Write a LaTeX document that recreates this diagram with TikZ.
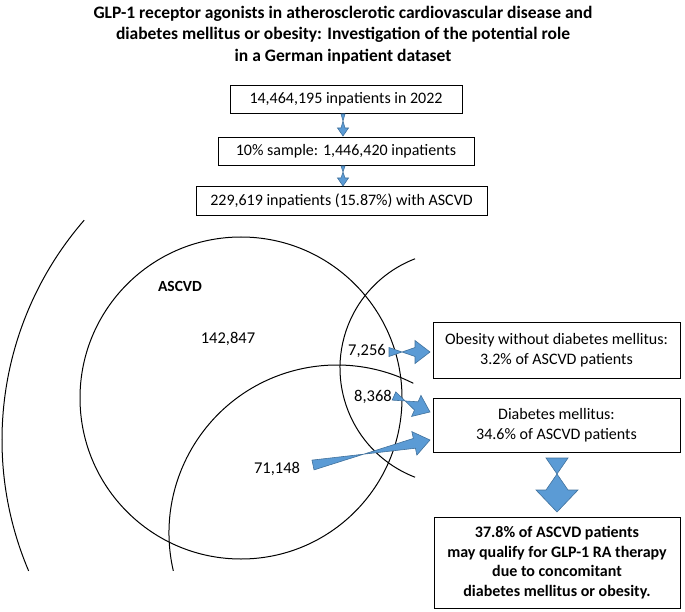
\documentclass[tikz,border=0pt]{standalone}
\usepackage{fontspec}
\setmainfont{Carlito}
\usetikzlibrary{calc}
\definecolor{ab}{HTML}{5B9BD5}
\definecolor{abd}{HTML}{41719C}
\newcommand\BA[7]{%
 \coordinate (s) at (#1,#2); \coordinate (t) at (#3,#4);
 \coordinate (hb) at ($(t)!#7!(s)$);
 \filldraw[fill=ab,draw=abd,line width=0.6pt,line join=miter]
  ($(s)!#5!90:(t)$) -- ($(hb)!#5!-90:(t)$) -- ($(hb)!#6!-90:(t)$) -- (t)
  -- ($(hb)!#6!90:(t)$) -- ($(hb)!#5!90:(t)$) -- ($(s)!#5!-90:(t)$) -- cycle;}
\begin{document}
\begin{tikzpicture}[x=1pt,y=-1pt,
 box/.style={draw,line width=0.8pt,align=center,font=\fontsize{16}{19.5}\selectfont},
 circ/.style={line width=1pt},
 lab/.style={font=\fontsize{16.5}{19}\selectfont}]
\useasboundingbox (0,0) rectangle (685,612);
\node[font=\bfseries\fontsize{17.5}{21.5}\selectfont,align=center] (title) at (343,35) {GLP-1 receptor agonists in atherosclerotic cardiovascular disease and\\diabetes mellitus or obesity: Investigation of the potential role\\in a German inpatient dataset};
\node[box,minimum width=232pt,minimum height=28pt] (b1) at (346,99) {14,464,195 inpatients in 2022};
\node[box,minimum width=256pt,minimum height=28pt] (b2) at (346,151) {10\% sample: 1,446,420 inpatients};
\node[box,minimum width=291pt,minimum height=29pt] (b3) at (341.5,200.5) {229,619 inpatients (15.87\%) with ASCVD};
\node[box,minimum width=247pt,minimum height=56pt] (ob) at (556.5,350) {Obesity without diabetes mellitus:\\3.2\% of ASCVD patients};
\node[box,minimum width=247pt,minimum height=54pt] (dm) at (556.5,425) {Diabetes mellitus:\\34.6\% of ASCVD patients};
\node[box,minimum width=246pt,minimum height=91pt,font=\bfseries\fontsize{16}{19.5}\selectfont] (fin) at (557,562.5) {37.8\% of ASCVD patients\\may qualify for GLP-1 RA therapy\\due to concomitant\\diabetes mellitus or obesity.};
% circles
\draw[circ] (241,398) circle (161);
\draw[circ] (457,368) ++(111:117) arc (111:249:117);
\draw[circ] (337,533) ++(167:168) arc (167:297:168);
\draw[circ] (337,440) ++(157:335) arc (157:221:335);
\node[lab,font=\bfseries\fontsize{15.5}{18}\selectfont] (asc) at (180,286) {ASCVD};
\node[lab] (n1) at (228,339) {142,847};
\node[lab] (n2) at (367,351) {7,256};
\node[lab] (n3) at (373,397) {8,368};
\node[lab] (n4) at (277,469) {71,148};
% arrows
\BA{343}{114}{343}{136}{2pt}{5.5pt}{8pt}
\BA{343}{166}{343}{186}{2pt}{5.5pt}{8pt}
\BA{557}{458}{557}{512}{11pt}{21pt}{22pt}
\BA{389}{352}{430}{352}{4.5pt}{11.5pt}{15pt}
\BA{394}{396}{430}{412}{4.5pt}{11.5pt}{15pt}
\BA{313}{465}{430}{440}{5pt}{12pt}{16pt}
\end{tikzpicture}
\end{document}
